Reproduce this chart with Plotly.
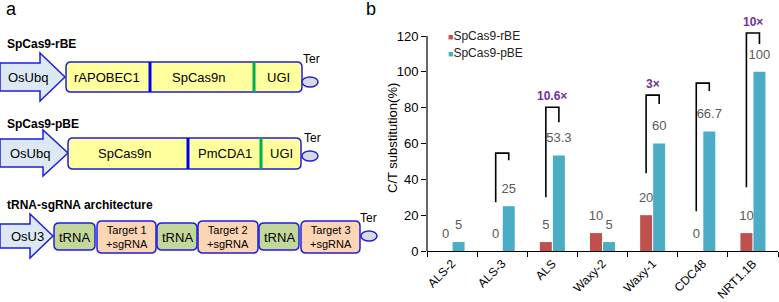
import plotly.graph_objects as go

# ---------------- data (panel b) ----------------
categories = ["ALS-2", "ALS-3", "ALS", "Waxy-2", "Waxy-1", "CDC48", "NRT1.1B"]
rbe_values = [0, 0, 5, 10, 20, 0, 10]
pbe_values = [5, 25, 53.3, 5, 60, 66.7, 100]
rbe_labels = ["0", "0", "5", "10", "20", "0", "10"]
pbe_labels = ["5", "25", "53.3", "5", "60", "66.7", "100"]
series_names = ["SpCas9-rBE", "SpCas9-pBE"]
y_ticks = [0, 20, 40, 60, 80, 100, 120]
y_title = "C/T substitution(%)"

# comparison brackets
bracket_cats = ["ALS-3", "ALS", "Waxy-1", "CDC48", "NRT1.1B"]
bracket_top = [54.6, 80.2, 87.0, 93.7, 121.7]
bracket_left_bottom = [27.2, 30.0, 43.4, 22.2, 35.6]
bracket_right_bottom = [50.7, 71.9, 82.0, 89.3, 115.5]
fold_labels = ["", "10.6×", "3×", "", "10×"]

# ---------------- text (panel a) ----------------
construct_titles = ["SpCas9-rBE", "SpCas9-pBE", "tRNA-sgRNA architecture"]
promoters = ["OsUbq", "OsUbq", "OsU3"]
rbe_parts = ["rAPOBEC1", "SpCas9n", "UGI"]
pbe_parts = ["SpCas9n", "PmCDA1", "UGI"]
trna_parts = ["tRNA", "Target 1<br>+sgRNA", "tRNA", "Target 2<br>+sgRNA", "tRNA", "Target 3<br>+sgRNA"]

RED = "#c0504d"
CYAN = "#4bacc6"
BLUE = "#1f1fd6"
FONT = "Liberation Sans, Arial, sans-serif"

W, H = 779, 302
bargap = 0.48
half_off = (1 - bargap) / 4  # centre offset of each bar in a 2-bar group

# y-axis geometry: value 0 at pixel row 251, 120 at row 36; range extended to 130 so brackets aren't clipped
px_per_unit = (251 - 36) / 120.0
y_max = 130
y_top_px = 251 - y_max * px_per_unit

fig = go.Figure()
xs = list(range(len(categories)))

fig.add_trace(go.Bar(x=xs, y=rbe_values, name=series_names[0], marker=dict(color=RED, line=dict(width=0)),
                     showlegend=False, hoverinfo="skip"))
fig.add_trace(go.Bar(x=xs, y=pbe_values, name=series_names[1], marker=dict(color=CYAN, line=dict(width=0)),
                     showlegend=False, hoverinfo="skip"))

# value labels
fig.add_trace(go.Scatter(x=[i - half_off for i in xs], y=rbe_values, text=rbe_labels, mode="markers+text",
                         textposition="top center", marker=dict(size=14, opacity=0),
                         textfont=dict(size=13, color="#595959", family=FONT),
                         cliponaxis=False, showlegend=False, hoverinfo="skip"))
fig.add_trace(go.Scatter(x=[i + half_off for i in xs], y=pbe_values, text=pbe_labels, mode="markers+text",
                         textposition="top center", marker=dict(size=14, opacity=0),
                         textfont=dict(size=13, color="#595959", family=FONT),
                         cliponaxis=False, showlegend=False, hoverinfo="skip"))

# brackets
bx, by = [], []
for c, t, lb, rb in zip(bracket_cats, bracket_top, bracket_left_bottom, bracket_right_bottom):
    i = categories.index(c)
    bx += [i - half_off, i - half_off, i + half_off, i + half_off, None]
    by += [lb, t, t, rb, None]
fig.add_trace(go.Scatter(x=bx, y=by, mode="lines", line=dict(color="black", width=1.6),
                         cliponaxis=False, showlegend=False, hoverinfo="skip"))

annotations = []
for c, t, lab in zip(bracket_cats, bracket_top, fold_labels):
    if lab:
        annotations.append(dict(x=categories.index(c), y=t, xref="x", yref="y", text="<b>%s</b>" % lab,
                                showarrow=False, yanchor="bottom", yshift=2,
                                font=dict(size=12, color="#7030a0", family=FONT)))

# legend (annotation based)
for k, (nm, col) in enumerate(zip(series_names, [RED, CYAN])):
    annotations.append(dict(x=446, y=36 + 17 * k, xref="x2", yref="y2", xanchor="left", yanchor="middle",
                            text="<span style='color:%s;font-size:9px'>■</span>%s" % (col, nm),
                            showarrow=False, font=dict(size=12, color="#222", family=FONT)))

# y-axis title
annotations.append(dict(x=392, y=138, xref="x2", yref="y2", text=y_title, textangle=-90, showarrow=False,
                        xanchor="center", yanchor="middle", font=dict(size=13, color="black", family=FONT)))

# ---------------- panel a: diagram ----------------
shapes = []

# y-axis line only from 0 to 120
shapes.append(dict(type="line", xref="x domain", yref="y", x0=0, x1=0, y0=0, y1=y_ticks[-1],
                   line=dict(color="black", width=1.2)))


def rrect(x0, y0, x1, y1, r=5):
    return ("M%g,%g L%g,%g Q%g,%g %g,%g L%g,%g Q%g,%g %g,%g L%g,%g Q%g,%g %g,%g L%g,%g Q%g,%g %g,%g Z" %
            (x0 + r, y0, x1 - r, y0, x1, y0, x1, y0 + r, x1, y1 - r, x1, y1, x1 - r, y1,
             x0 + r, y1, x0, y1, x0, y1 - r, x0, y0 + r, x0, y0, x0 + r, y0))


def arrow(x0, xh, xt, cy, sh, hh):
    return ("M%g,%g L%g,%g L%g,%g L%g,%g L%g,%g L%g,%g L%g,%g Z" %
            (x0, cy - sh, xh, cy - sh, xh, cy - hh, xt, cy, xh, cy + hh, xh, cy + sh, x0, cy + sh))


def txt(x, y, s, size=13, bold=False, anchor="center", color="black"):
    annotations.append(dict(x=x, y=y, xref="x2", yref="y2", text=("<b>%s</b>" % s) if bold else s,
                            showarrow=False, xanchor=anchor, yanchor="middle",
                            font=dict(size=size, color=color, family=FONT)))


def shp(path, fill, lw=1.5, color=BLUE):
    shapes.append(dict(type="path", path=path, xref="x2", yref="y2", fillcolor=fill,
                       line=dict(color=color, width=lw)))


def vline(x, y0, y1, color, w=3):
    shapes.append(dict(type="line", x0=x, x1=x, y0=y0, y1=y1, xref="x2", yref="y2",
                       line=dict(color=color, width=w)))


def ter(x0, x1, y0, y1, tx, ty):
    shapes.append(dict(type="circle", x0=x0, x1=x1, y0=y0, y1=y1, xref="x2", yref="y2",
                       fillcolor="#d9d9e6", line=dict(color=BLUE, width=1.5)))
    txt(tx, ty, "Ter", size=12)


txt(4, 9, "a", size=18, anchor="left")
txt(364, 9, "b", size=18, anchor="left")

# row 1
txt(5, 44, construct_titles[0], size=12, bold=True, anchor="left")
shp(arrow(0, 40, 65, 77, 14, 24), "#dce9f5")
txt(28, 77, promoters[0])
shp(rrect(66, 62, 302, 92), "#ffff9e")
vline(150, 62, 92, "#0000ee")
vline(254, 62, 92, "#00b050")
txt(107, 77, rbe_parts[0])
txt(198, 77, rbe_parts[1])
txt(278, 77, rbe_parts[2])
ter(302, 318, 77, 87, 311, 59)

# row 2
txt(5, 124, construct_titles[1], size=12, bold=True, anchor="left")
shp(arrow(0, 43, 68, 153, 14, 23), "#dce9f5")
txt(30, 153, promoters[1])
shp(rrect(68, 138, 301, 169), "#ffff9e")
vline(188, 138, 169, "#0000ee")
vline(261, 138, 169, "#00b050")
txt(124, 153, pbe_parts[0])
txt(225, 153, pbe_parts[1])
txt(281, 153, pbe_parts[2])
ter(302, 318, 151, 161, 312, 138)

# row 3
txt(5, 205, construct_titles[2], size=12, bold=True, anchor="left")
shp(arrow(0, 30, 53, 236, 12, 22), "#dce9f5")
txt(27, 236, promoters[2])
boxes3 = [(54, 95), (97, 156), (157, 197), (198, 258), (259, 299), (301, 360)]
for (x0, x1), lab in zip(boxes3, trna_parts):
    if lab == "tRNA":
        shp(rrect(x0, 223, x1, 250), "#c4d79b")
        txt((x0 + x1) / 2, 237, lab)
    else:
        shp(rrect(x0, 221, x1, 253), "#fcd5b5")
        txt((x0 + x1) / 2, 237, lab, size=11)
ter(361, 377, 231, 241, 368, 218)

fig.update_layout(
    width=W, height=H, margin=dict(l=0, r=0, t=0, b=0),
    paper_bgcolor="white", plot_bgcolor="rgba(0,0,0,0)",
    barmode="group", bargap=bargap, bargroupgap=0.08,
    font=dict(family=FONT, color="black"),
    xaxis=dict(domain=[427 / W, 778 / W], range=[-0.5, 6.5], tickvals=xs, ticktext=categories,
               tickangle=-45, ticks="", showline=True, linecolor="black", linewidth=1, showgrid=False,
               zeroline=False, tickfont=dict(size=12, color="black"), automargin=False,
               minor=dict(tickvals=[i - 0.5 for i in range(len(categories) + 1)], ticks="outside",
                          ticklen=5, tickcolor="black", showgrid=False)),
    yaxis=dict(domain=[(H - 251) / H, (H - y_top_px) / H], range=[0, y_max], tickvals=y_ticks,
               ticks="outside", ticklen=5, tickcolor="black", showline=False,
               showgrid=False, zeroline=False, tickfont=dict(size=13, color="black"),
               automargin=False),
    xaxis2=dict(domain=[0, 1], range=[0, W], anchor="y2", visible=False, fixedrange=True),
    yaxis2=dict(domain=[0, 1], range=[H, 0], anchor="x2", visible=False, fixedrange=True),
    shapes=shapes, annotations=annotations,
)

fig.write_html("out.html", config={"displayModeBar": False, "staticPlot": True},
               post_script="document.body.style.margin='0px';document.body.style.overflow='hidden';")
